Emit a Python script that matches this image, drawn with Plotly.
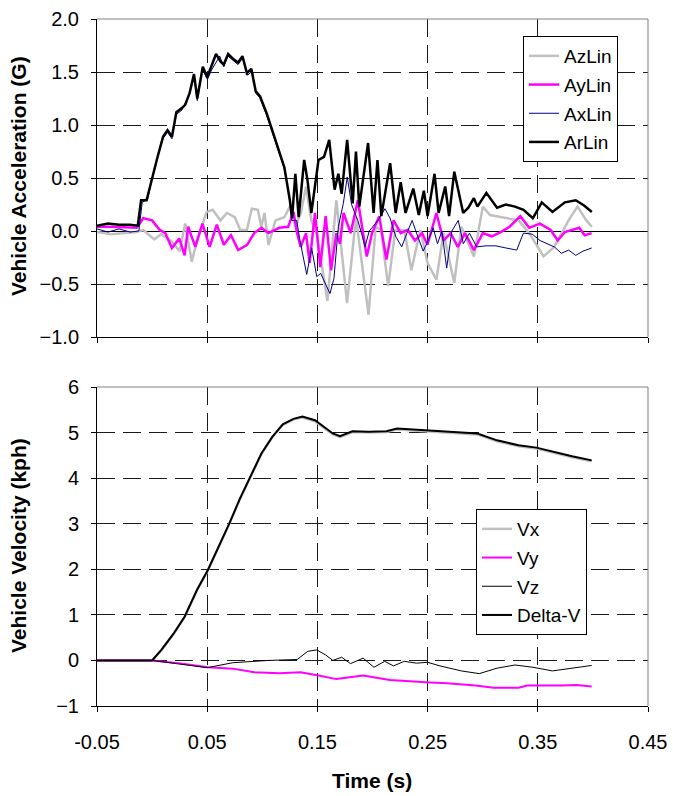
import plotly.graph_objects as go

# ---------------- Top chart: vehicle acceleration (G) ----------------
t_az = [-0.050, -0.037, -0.014, -0.008, 0.002, 0.008, 0.018, 0.025, 0.030, 0.036,
        0.041, 0.0495, 0.055, 0.062, 0.068, 0.075, 0.080, 0.086, 0.0905, 0.096,
        0.099, 0.102, 0.1056, 0.112, 0.120, 0.125, 0.130, 0.135, 0.1397, 0.1445,
        0.1494, 0.1591, 0.1672, 0.1769, 0.185, 0.1964, 0.2029, 0.2077, 0.2142, 0.2207,
        0.2288, 0.2353, 0.2434, 0.2499, 0.258, 0.2644, 0.2742, 0.2806, 0.292, 0.3001,
        0.3066, 0.3163, 0.3325, 0.3422, 0.3552, 0.3649, 0.3779, 0.386, 0.3941, 0.399]
v_az = [-0.01, -0.03, -0.01, 0.01, -0.08, -0.03, -0.10, -0.19, 0.07, -0.29,
        -0.08, 0.18, 0.20, 0.10, 0.17, 0.13, 0.01, 0.01, 0.21, 0.20,
        0.04, 0.17, -0.13, 0.10, 0.13, 0.23, 0.04, 0.17, 0.42, 0.10,
        -0.02, -0.66, 0.29, -0.68, 0.13, -0.79, 0.04, 0.01, -0.52, 0.01,
        0.01, -0.37, 0.01, -0.30, -0.46, -0.02, -0.49, 0.04, -0.24, 0.23,
        0.15, 0.13, 0.10, -0.02, -0.24, -0.15, 0.10, 0.23, 0.10, 0.04]

t_ay = [-0.050, -0.037, -0.014, -0.008, 0.000, 0.007, 0.012, 0.018, 0.0246, 0.0295,
        0.0327, 0.0392, 0.0457, 0.0522, 0.0587, 0.0651, 0.0716, 0.0781, 0.0862, 0.0927,
        0.0992, 0.1056, 0.1154, 0.1235, 0.1283, 0.1316, 0.1348, 0.1397, 0.1429, 0.1478,
        0.1526, 0.1575, 0.1624, 0.1672, 0.1705, 0.1737, 0.1802, 0.1867, 0.1948, 0.1996,
        0.2061, 0.2126, 0.2191, 0.2256, 0.2320, 0.2385, 0.2450, 0.2499, 0.2580, 0.2644,
        0.2709, 0.2774, 0.2839, 0.2920, 0.3001, 0.3082, 0.3163, 0.3244, 0.3341, 0.3422,
        0.3519, 0.3617, 0.3681, 0.3746, 0.3876, 0.3925, 0.3989]
v_ay = [0.04, 0.04, 0.03, 0.12, 0.10, 0.01, -0.02, -0.16, -0.07, -0.23,
        0.04, -0.15, 0.07, -0.15, 0.06, -0.13, -0.04, -0.18, -0.13, -0.02,
        0.03, -0.02, 0.03, 0.04, 0.18, -0.02, -0.15, -0.02, -0.30, 0.17,
        -0.34, 0.14, -0.37, -0.02, -0.12, 0.17, -0.02, 0.29, -0.24, -0.02,
        0.14, -0.27, 0.10, -0.02, 0.01, -0.09, -0.02, -0.13, 0.17, -0.09,
        -0.02, -0.15, -0.02, -0.18, -0.02, -0.05, -0.01, 0.04, 0.14, 0.03,
        0.07, 0.01, -0.09, -0.01, 0.03, -0.04, -0.02]

t_ax = [-0.050, -0.040, -0.030, -0.020, -0.012, -0.009, -0.004, 0.000, 0.005, 0.0096,
        0.014, 0.018, 0.022, 0.027, 0.0335, 0.038, 0.041, 0.0456, 0.0502, 0.054,
        0.0614, 0.065, 0.0688, 0.075, 0.078, 0.0822, 0.0867, 0.091, 0.094, 0.0975,
        0.104, 0.109, 0.1154, 0.1202, 0.125, 0.1267, 0.1312, 0.1342, 0.1403, 0.1448,
        0.1494, 0.153, 0.1569, 0.1614, 0.165, 0.169, 0.1735, 0.1771, 0.181, 0.1866,
        0.190, 0.1932, 0.197, 0.200, 0.205, 0.2113, 0.216, 0.221, 0.2265, 0.232,
        0.236, 0.241, 0.246, 0.251, 0.255, 0.259, 0.263, 0.2673, 0.272, 0.2778,
        0.2824, 0.288, 0.2945, 0.303, 0.312, 0.321, 0.3309, 0.3369, 0.345, 0.352,
        0.358, 0.365, 0.3714, 0.378, 0.3844, 0.391, 0.3989]
v_ax = [0.02, -0.01, 0.02, -0.01, 0.00, 0.27, 0.30, 0.50, 0.70, 0.87,
        0.93, 0.87, 1.10, 1.14, 1.28, 1.46, 1.23, 1.53, 1.43, 1.52,
        1.65, 1.55, 1.65, 1.60, 1.57, 1.63, 1.47, 1.51, 1.30, 1.26,
        1.09, 0.93, 0.74, 0.58, 0.28, 0.10, 0.10, -0.09, -0.41, -0.16,
        -0.43, -0.40, -0.49, -0.59, -0.45, 0.04, 0.26, 0.51, 0.25, 0.10,
        -0.02, -0.15, 0.00, 0.04, 0.10, 0.21, 0.12, -0.05, -0.15, 0.00,
        0.10, -0.05, -0.19, -0.08, 0.03, -0.12, 0.00, -0.35, 0.00, 0.10,
        -0.12, -0.02, -0.15, -0.14, -0.14, -0.16, -0.18, -0.02, -0.03, -0.09,
        -0.12, -0.15, -0.21, -0.18, -0.23, -0.19, -0.16]

t_ar = [-0.050, -0.040, -0.030, -0.020, -0.013, -0.010, -0.005, 0.000, 0.005, 0.010,
        0.014, 0.018, 0.022, 0.027, 0.030, 0.034, 0.038, 0.041, 0.046, 0.050,
        0.053, 0.058, 0.062, 0.065, 0.069, 0.074, 0.078, 0.082, 0.086, 0.090,
        0.094, 0.098, 0.104, 0.109, 0.115, 0.120, 0.125, 0.127, 0.130, 0.133,
        0.138, 0.141, 0.1445, 0.151, 0.156, 0.1607, 0.1656, 0.169, 0.172, 0.177,
        0.182, 0.185, 0.188, 0.196, 0.201, 0.2045, 0.208, 0.216, 0.221, 0.2256,
        0.230, 0.237, 0.242, 0.2466, 0.250, 0.2563, 0.260, 0.266, 0.2695, 0.2742,
        0.2823, 0.287, 0.292, 0.2952, 0.3033, 0.313, 0.321, 0.3293, 0.337, 0.3455,
        0.3536, 0.3633, 0.3746, 0.3844, 0.392, 0.399]
v_ar = [0.05, 0.07, 0.06, 0.06, 0.05, 0.29, 0.29, 0.51, 0.70, 0.89,
        0.95, 0.89, 1.12, 1.16, 1.19, 1.30, 1.48, 1.25, 1.55, 1.45,
        1.53, 1.67, 1.60, 1.57, 1.67, 1.62, 1.59, 1.65, 1.49, 1.53,
        1.32, 1.27, 1.11, 0.95, 0.76, 0.60, 0.29, 0.12, 0.54, 0.13,
        0.67, 0.48, 0.17, 0.67, 0.70, 0.86, 0.39, 0.54, 0.35, 0.86,
        0.26, 0.75, 0.23, 0.83, 0.17, 0.67, 0.14, 0.64, 0.17, 0.46,
        0.17, 0.40, 0.15, 0.38, 0.14, 0.54, 0.17, 0.42, 0.14, 0.56,
        0.17, 0.22, 0.31, 0.23, 0.36, 0.22, 0.25, 0.23, 0.20, 0.12,
        0.27, 0.18, 0.27, 0.29, 0.24, 0.18]

# ---------------- Bottom chart: vehicle velocity (kph) ----------------
t_dv = [-0.050, 0.000, 0.0084, 0.0198, 0.0295, 0.0408, 0.0505, 0.0603, 0.070, 0.0797,
        0.0894, 0.0992, 0.1089, 0.1186, 0.1283, 0.1364, 0.1478, 0.1559, 0.164, 0.1705,
        0.1818, 0.1964, 0.2126, 0.2223, 0.2353, 0.2499, 0.2677, 0.2952, 0.313, 0.3325,
        0.3487, 0.3649, 0.3811, 0.3989]
v_dv = [0.00, 0.00, 0.23, 0.60, 0.96, 1.55, 1.98, 2.49, 3.00, 3.55,
        4.06, 4.54, 4.90, 5.18, 5.30, 5.35, 5.27, 5.12, 4.98, 4.92,
        5.03, 5.02, 5.03, 5.09, 5.07, 5.05, 5.02, 4.98, 4.83, 4.72,
        4.67, 4.57, 4.48, 4.39]
v_vx = [0.00, 0.00, 0.22, 0.59, 0.95, 1.54, 1.97, 2.48, 2.99, 3.54,
        4.05, 4.53, 4.89, 5.17, 5.29, 5.33, 5.25, 5.10, 4.96, 4.90,
        5.01, 5.00, 5.01, 5.07, 5.05, 5.03, 5.00, 4.96, 4.81, 4.70,
        4.65, 4.55, 4.46, 4.37]

t_vy = [-0.050, 0.000, 0.0279, 0.0505, 0.0732, 0.0927, 0.1154, 0.1348, 0.151, 0.1672,
        0.1915, 0.2158, 0.2482, 0.2677, 0.2936, 0.3098, 0.3325, 0.3406, 0.3714, 0.385,
        0.3989]
v_vy = [0.00, 0.00, -0.07, -0.15, -0.18, -0.26, -0.28, -0.26, -0.33, -0.41,
        -0.33, -0.43, -0.48, -0.50, -0.55, -0.60, -0.60, -0.55, -0.55, -0.54,
        -0.57]

t_vz = [-0.050, 0.000, 0.025, 0.050, 0.0732, 0.1056, 0.1316, 0.1413, 0.1494, 0.1575,
        0.164, 0.172, 0.180, 0.1915, 0.2013, 0.211, 0.2191, 0.2288, 0.240, 0.2499,
        0.2612, 0.2806, 0.2969, 0.313, 0.3293, 0.3455, 0.3633, 0.3795, 0.3989]
v_vz = [0.00, 0.00, -0.08, -0.16, -0.05, 0.00, 0.02, 0.20, 0.23, 0.12,
        0.00, 0.07, -0.07, 0.05, -0.15, -0.02, -0.12, -0.02, -0.06, -0.04,
        -0.12, -0.23, -0.29, -0.17, -0.10, -0.15, -0.23, -0.18, -0.11]

x_ticks = [-0.05, 0.05, 0.15, 0.25, 0.35, 0.45]
x_ticklabels = ["-0.05", "0.05", "0.15", "0.25", "0.35", "0.45"]

FONT = "Liberation Sans, Arial, sans-serif"
GRAY = "#C0C0C0"
MAGENTA = "#FF00FF"
NAVY = "#000080"

fig = go.Figure()

top = [("AzLin", t_az, v_az, GRAY, 2.5),
       ("AyLin", t_ay, v_ay, MAGENTA, 2.5),
       ("AxLin", t_ax, v_ax, NAVY, 1.0),
       ("ArLin", t_ar, v_ar, "#000000", 2.5)]
for name, t, v, c, w in top:
    fig.add_trace(go.Scatter(x=t, y=v, name=name, mode="lines",
                             line=dict(color=c, width=w), xaxis="x", yaxis="y",
                             legend="legend", legendgroup=name))

bottom = [("Vx", t_dv, v_vx, GRAY, 2.5),
          ("Vy", t_vy, v_vy, MAGENTA, 2.0),
          ("Vz", t_vz, v_vz, "#000000", 1.0),
          ("Delta-V", t_dv, v_dv, "#000000", 2.0)]
for name, t, v, c, w in bottom:
    fig.add_trace(go.Scatter(x=t, y=v, name=name, mode="lines",
                             line=dict(color=c, width=w), xaxis="x2", yaxis="y2",
                             legend="legend2", legendgroup=name))

W, H = 673, 796
xd = [97 / W, 648 / W]
yd_top = [1 - 337 / H, 1 - 19 / H]
yd_bot = [1 - 706 / H, 1 - 387 / H]

grid = dict(showgrid=True, gridcolor="#1a1a1a", gridwidth=1, griddash="18px,8px")
axcommon = dict(showline=True, linecolor="#000000", linewidth=1, ticks="outside",
                ticklen=5, tickcolor="#000000", automargin=False,
                tickfont=dict(family=FONT, size=20, color="#000"),
                zeroline=False, **grid)

fig.update_layout(
    width=W, height=H, margin=dict(l=0, r=0, t=0, b=0, autoexpand=False),
    paper_bgcolor="white", plot_bgcolor="white",
    font=dict(family=FONT, size=20, color="#000"),
    xaxis=dict(domain=xd, anchor="y", range=[-0.05, 0.45], tickvals=x_ticks,
               showticklabels=False, **axcommon),
    yaxis=dict(domain=yd_top, anchor="x", range=[-1.0, 2.0], dtick=0.5, tick0=0,
               tickformat=".1f", ticklabelstandoff=8, **axcommon),
    xaxis2=dict(domain=xd, anchor="y2", range=[-0.05, 0.45], tickvals=x_ticks,
                ticktext=x_ticklabels, ticklabelstandoff=13, **axcommon),
    yaxis2=dict(domain=yd_bot, anchor="x2", range=[-1, 6], dtick=1, tick0=0,
                ticklabelstandoff=8, **axcommon),
    legend=dict(x=523 / W, y=1 - 36 / H, xanchor="left", yanchor="top",
                bgcolor="white", bordercolor="#000", borderwidth=1,
                font=dict(family=FONT, size=19), tracegroupgap=1),
    legend2=dict(x=476 / W, y=1 - 509 / H, xanchor="left", yanchor="top",
                 bgcolor="white", bordercolor="#000", borderwidth=1,
                 font=dict(family=FONT, size=19), tracegroupgap=1),
    showlegend=True,
)
fig.update_yaxes(selector=dict(anchor="x"), zeroline=True, zerolinecolor="#000", zerolinewidth=1)

# gray plot-area frame (top and right edges)
for xr, yr in (("x domain", "y domain"), ("x2 domain", "y2 domain")):
    fig.add_shape(type="line", xref=xr, yref=yr, x0=0, x1=1, y0=1, y1=1,
                  line=dict(color="#808080", width=1))
    fig.add_shape(type="line", xref=xr, yref=yr, x0=1, x1=1, y0=0, y1=1,
                  line=dict(color="#808080", width=1))

title_font = dict(family=FONT, size=21, color="#000")
fig.add_annotation(text="<b>Vehicle Acceleration (G)</b>", xref="paper", yref="paper",
                   x=18 / W, y=1 - 176 / H, xanchor="center", yanchor="middle",
                   textangle=-90, showarrow=False, font=title_font)
fig.add_annotation(text="<b>Vehicle Velocity (kph)</b>", xref="paper", yref="paper",
                   x=18 / W, y=1 - 546 / H, xanchor="center", yanchor="middle",
                   textangle=-90, showarrow=False, font=title_font)
fig.add_annotation(text="<b>Time (s)</b>", xref="paper", yref="paper",
                   x=372 / W, y=1 - 780 / H, xanchor="center", yanchor="middle",
                   showarrow=False, font=title_font)

fig.write_html("out.html")
